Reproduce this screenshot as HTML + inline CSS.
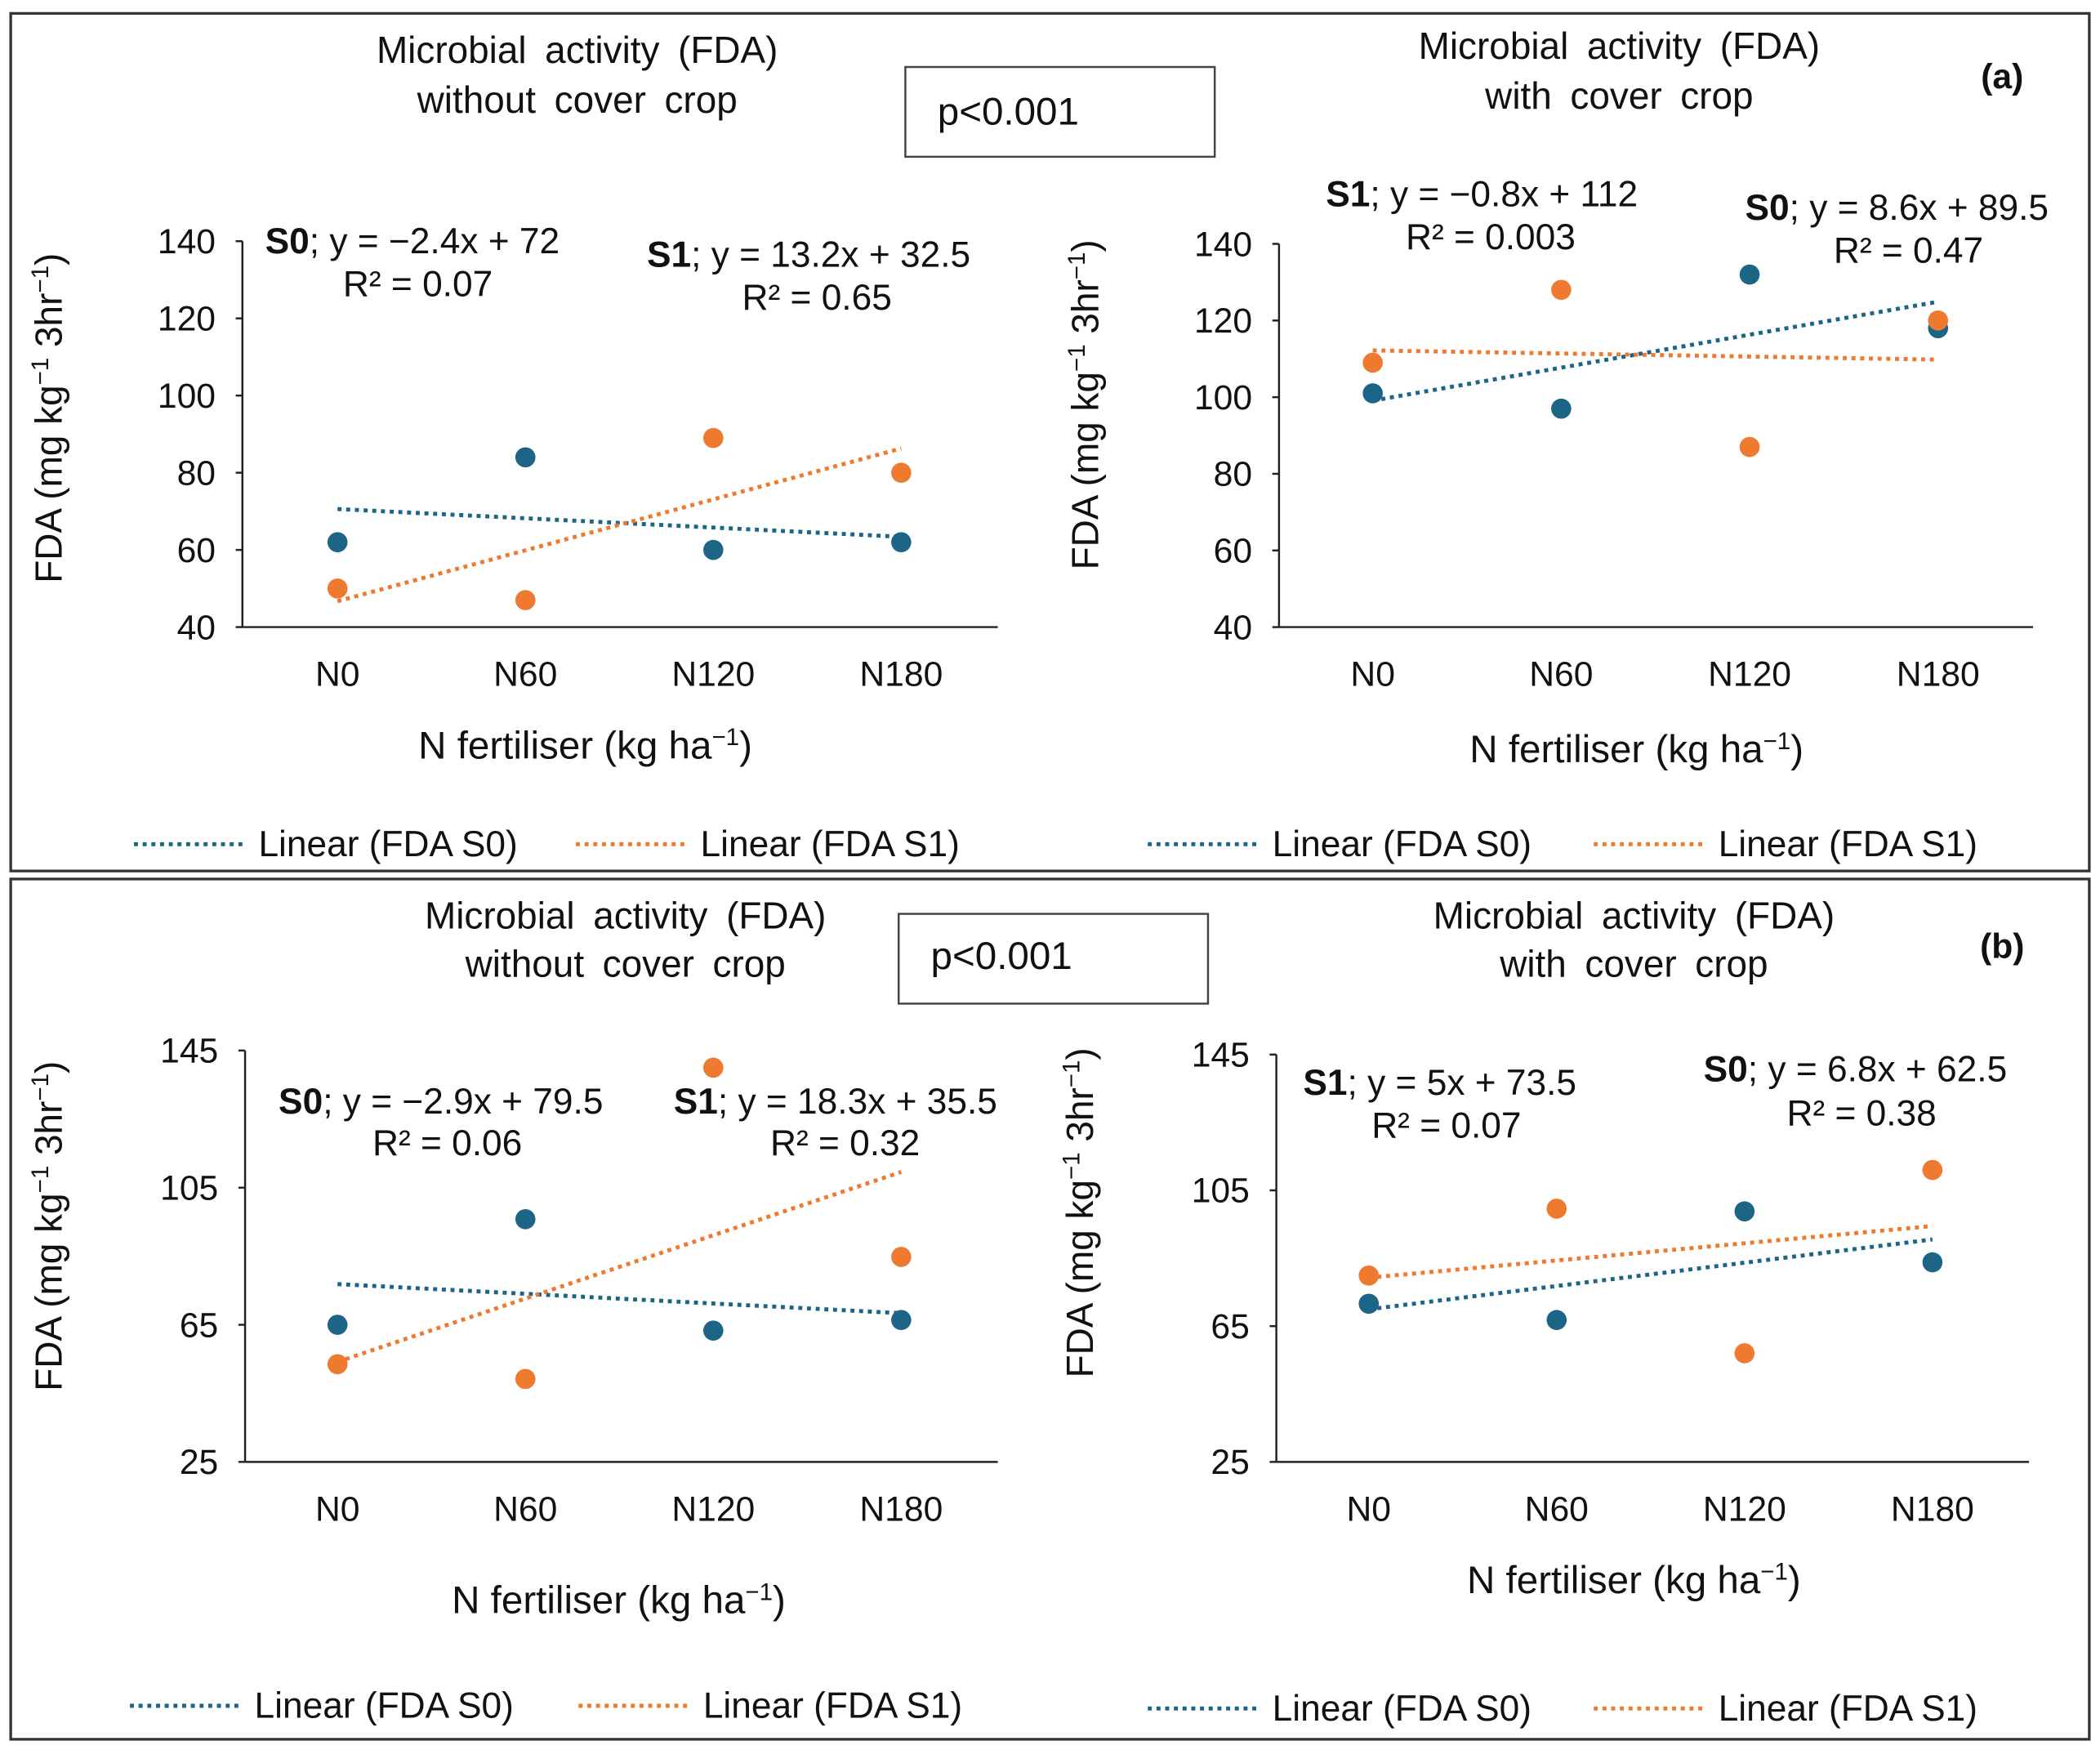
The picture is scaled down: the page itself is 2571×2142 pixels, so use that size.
<!DOCTYPE html>
<html><head><meta charset="utf-8"><style>
html,body{margin:0;padding:0;background:#fff}
svg{display:block}
text{font-family:"Liberation Sans",Arial,sans-serif;fill:#111}
</style></head><body>
<svg id="fig" width="2571" height="2142" viewBox="0 0 1568 1306" preserveAspectRatio="none">
<rect x="8" y="10" width="1552" height="640" fill="none" stroke="#333" stroke-width="2"/>
<rect x="8" y="656" width="1552" height="642" fill="none" stroke="#333" stroke-width="2"/>
<g id="root"></g>
</svg>
<script>
const categories = ["N0","N60","N120","N180"];
const aLeftS0 = [62,84,60,62];
const aLeftS1 = [50,47,89,80];
const aRightS0 = [101,97,132,118];
const aRightS1 = [109,128,87,120];
const bLeftS0 = [65,95.8,63.3,66.4];
const bLeftS1 = [53.5,49.2,140,84.8];
const bRightS0 = [71.6,66.8,98.8,83.8];
const bRightS1 = [79.9,99.6,57,111];
const ticksA = [40,60,80,100,120,140];
const ticksB = [25,65,105,145];

const NS="http://www.w3.org/2000/svg";
const root=document.getElementById('root');
const BLUE="#1d6587", ORANGE="#ee7a30";
function mk(tag,attrs,parent){const e=document.createElementNS(NS,tag);for(const k in attrs)e.setAttribute(k,attrs[k]);(parent||root).appendChild(e);return e;}
function txt(x,y,s,size,anchor,parent,extra){const t=mk('text',Object.assign({x:x,y:y,'font-size':size,'text-anchor':anchor||'start'},extra||{}),parent);t.innerHTML=s;return t;}

function chart(cfg){
  const g=mk('g',{});
  
  
  const yMin=cfg.ticks[0], yMax=cfg.ticks[cfg.ticks.length-1];
  const ys=v=>cfg.y0-(v-yMin)/(yMax-yMin)*(cfg.y0-cfg.y1);
  const xs=i=>cfg.xFirst+i*cfg.xStep;
  const ax=mk('line',{x1:cfg.axL,y1:cfg.y0,x2:cfg.axR,y2:cfg.y0,stroke:'#222','stroke-width':1.5},g);
  
  const ay=mk('line',{x1:cfg.axL,y1:cfg.y0,x2:cfg.axL,y2:cfg.y1,stroke:'#222','stroke-width':1.5},g);
  
  cfg.ticks.forEach(v=>{
    mk('line',{x1:cfg.axL-5,y1:ys(v),x2:cfg.axL,y2:ys(v),stroke:'#222','stroke-width':1.5},g);
    const t=txt(cfg.axL-20,ys(v)+9,String(v),26,'end',g);
    
  });
  categories.forEach((c,i)=>{
    const t=txt(xs(i),cfg.y0+44,c,26,'middle',g);
    
  });
  [[cfg.s0,BLUE,'trend-s0'],[cfg.s1,ORANGE,'trend-s1']].forEach(([d,col,nm])=>{
    const n=d.length,xm=(n+1)/2,ymn=d.reduce((a,b)=>a+b,0)/n;
    let sxy=0,sxx=0;d.forEach((v,i)=>{sxy+=(i+1-xm)*(v-ymn);sxx+=(i+1-xm)**2;});
    const b=sxy/sxx,a=ymn-b*xm;
    const l=mk('line',{x1:xs(0),y1:ys(a+b),x2:xs(n-1),y2:ys(a+b*n),stroke:col,'stroke-width':3,'stroke-dasharray':'3 3.5'},g);
    
  });
  [[cfg.s0,BLUE,'point-s0'],[cfg.s1,ORANGE,'point-s1']].forEach(([d,col,nm])=>{
    d.forEach((v,i)=>{
      const c=mk('circle',{cx:xs(i),cy:ys(v),r:7.5,fill:col},g);
      
    });
  });
}

chart({name:'chart-a-without-cover',s0:aLeftS0,s1:aLeftS1,ticks:ticksA,y0:468,y1:180,axL:181,axR:745,xFirst:252,xStep:140.3});
chart({name:'chart-a-with-cover',s0:aRightS0,s1:aRightS1,ticks:ticksA,y0:468,y1:182,axL:955,axR:1518,xFirst:1025,xStep:140.7});
chart({name:'chart-b-without-cover',s0:bLeftS0,s1:bLeftS1,ticks:ticksB,y0:1091,y1:784,axL:183,axR:745,xFirst:252,xStep:140.3});
chart({name:'chart-b-with-cover',s0:bRightS0,s1:bRightS1,ticks:ticksB,y0:1091,y1:787,axL:953,axR:1515,xFirst:1022,xStep:140.3});

const TW={'word-spacing':6};
const labels=[
 [431,47,'Microbial activity (FDA)',28,'middle','title-a-left-1'],
 [431,84,'without cover crop',28,'middle','title-a-left-2'],
 [1209,44,'Microbial activity (FDA)',28,'middle','title-a-right-1'],
 [1209,81,'with cover crop',28,'middle','title-a-right-2'],
 [467,693,'Microbial activity (FDA)',28,'middle','title-b-left-1'],
 [467,729,'without cover crop',28,'middle','title-b-left-2'],
 [1220,693,'Microbial activity (FDA)',28,'middle','title-b-right-1'],
 [1220,729,'with cover crop',28,'middle','title-b-right-2'],
 [437,566,'N fertiliser (kg ha<tspan dy="-10" font-size="18">−1</tspan><tspan dy="10">)</tspan>',29,'middle','x-axis-title-a-left'],
 [1222,569,'N fertiliser (kg ha<tspan dy="-10" font-size="18">−1</tspan><tspan dy="10">)</tspan>',29,'middle','x-axis-title-a-right'],
 [462,1204,'N fertiliser (kg ha<tspan dy="-10" font-size="18">−1</tspan><tspan dy="10">)</tspan>',29,'middle','x-axis-title-b-left'],
 [1220,1189,'N fertiliser (kg ha<tspan dy="-10" font-size="18">−1</tspan><tspan dy="10">)</tspan>',29,'middle','x-axis-title-b-right'],
 [198,189,'<tspan font-weight="bold">S0</tspan>; y = −2.4x + 72',27,'start','eq-a-left-s0'],
 [312,221,'R² = 0.07',27,'middle','r2-a-left-s0'],
 [483,199,'<tspan font-weight="bold">S1</tspan>;  y = 13.2x + 32.5',27,'start','eq-a-left-s1'],
 [610,231,'R² = 0.65',27,'middle','r2-a-left-s1'],
 [990,154,'<tspan font-weight="bold">S1</tspan>; y = −0.8x + 112',27,'start','eq-a-right-s1'],
 [1113,186,'R² = 0.003',27,'middle','r2-a-right-s1'],
 [1303,164,'<tspan font-weight="bold">S0</tspan>;  y = 8.6x + 89.5',27,'start','eq-a-right-s0'],
 [1425,196,'R² = 0.47',27,'middle','r2-a-right-s0'],
 [208,831,'<tspan font-weight="bold">S0</tspan>; y = −2.9x + 79.5',27,'start','eq-b-left-s0'],
 [334,862,'R² = 0.06',27,'middle','r2-b-left-s0'],
 [503,831,'<tspan font-weight="bold">S1</tspan>;  y = 18.3x  + 35.5',27,'start','eq-b-left-s1'],
 [631,862,'R² = 0.32',27,'middle','r2-b-left-s1'],
 [973,817,'<tspan font-weight="bold">S1</tspan>;  y = 5x + 73.5',27,'start','eq-b-right-s1'],
 [1080,849,'R² = 0.07',27,'middle','r2-b-right-s1'],
 [1272,807,'<tspan font-weight="bold">S0</tspan>;  y = 6.8x + 62.5',27,'start','eq-b-right-s0'],
 [1390,840,'R² = 0.38',27,'middle','r2-b-right-s0'],
 [1495,66,'(a)',26,'middle','panel-label-a'],
 [1495,715,'(b)',26,'middle','panel-label-b'],
 [700,93,'p&lt;0.001',29,'start','p-value-a'],
 [695,723,'p&lt;0.001',29,'start','p-value-b']
];
labels.forEach(([x,y,s,sz,an,nm])=>{
  const extra=nm.indexOf('panel-label')===0?{'font-weight':'bold'}:(nm.indexOf('title')===0?TW:{});
  const t=txt(x,y,s,sz,an,root,extra);
  
  
});
[[676,50,'p-box-a'],[671,682,'p-box-b']].forEach(([x,y,nm])=>{
  const r=mk('rect',{x:x,y:y,width:231,height:67,fill:'none',stroke:'#444','stroke-width':1.5});
  
});
[[46,312,'y-axis-title-a-left'],[820,302,'y-axis-title-a-right'],[46,915,'y-axis-title-b-left'],[816,905,'y-axis-title-b-right']].forEach(([x,y,nm])=>{
  const t=txt(x,y,'FDA (mg kg<tspan dy="-10" font-size="18">−1</tspan><tspan dy="10"> 3hr</tspan><tspan dy="-10" font-size="18">−1</tspan><tspan dy="10">)</tspan>',28,'middle',root,{transform:'rotate(-90 '+x+' '+y+')'});
  
  
});
[[100,630,BLUE,'Linear (FDA S0)'],[430,630,ORANGE,'Linear (FDA S1)'],[857,630,BLUE,'Linear (FDA S0)'],[1190,630,ORANGE,'Linear (FDA S1)'],
 [97,1273,BLUE,'Linear (FDA S0)'],[432,1273,ORANGE,'Linear (FDA S1)'],[857,1275,BLUE,'Linear (FDA S0)'],[1190,1275,ORANGE,'Linear (FDA S1)']].forEach(([x,y,c,s])=>{
  const g=mk('g',{});
  
  
  mk('line',{x1:x,y1:y,x2:x+83,y2:y,stroke:c,'stroke-width':3,'stroke-dasharray':'3 3.5'},g);
  txt(x+93,y+9,s,27,'start',g);
});
</script>
</body></html>
